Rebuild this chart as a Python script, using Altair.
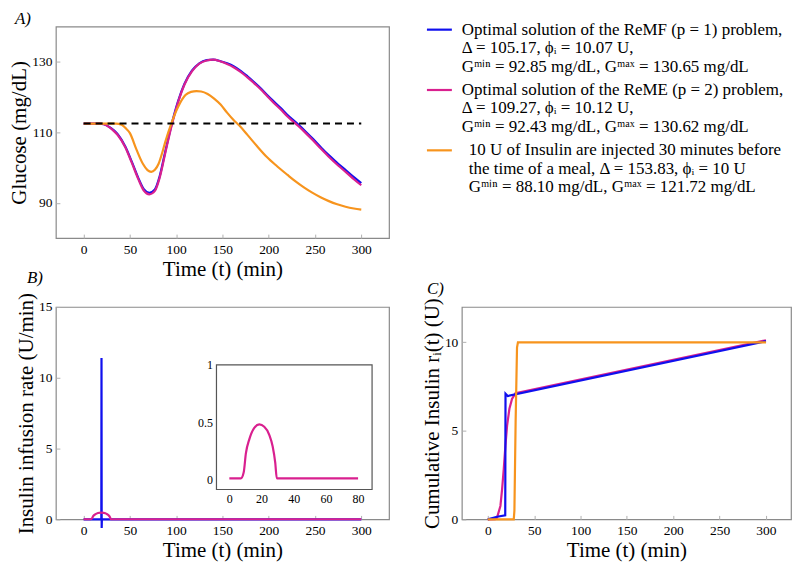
import altair as alt
import pandas as pd

SERIF = "Liberation Serif"
BLUE = "#1010EE"
MAG = "#D9208F"
ORANGE = "#F7941D"

# ---------------- Panel A: glucose ----------------
t_glu = [0, 10, 18, 22, 28, 33, 37, 45, 52, 59, 65, 71, 77, 82, 88, 95, 102, 109, 117, 125,
         133, 140, 148, 155, 162, 170, 177, 184, 191, 198, 205, 213, 220, 232, 240, 248, 257,
         266, 275, 284, 292, 300]
g_remf = [112.5, 112.5, 112.5, 112.3, 111.5, 110.5, 109.4, 106.0, 101.7, 97.1, 93.9, 92.85, 93.8,
          97.4, 104.3, 112.2, 118.8, 123.8, 127.5, 129.6, 130.5, 130.65, 130.2, 129.6, 128.8,
          127.4, 125.9, 124.3, 122.6, 120.7, 118.9, 116.9, 115.0, 112.2, 110.2, 108.1, 105.6,
          103.3, 101.1, 99.1, 97.3, 95.6]
g_reme = [112.5, 112.5, 112.5, 112.3, 111.4, 110.3, 109.2, 105.8, 101.4, 96.8, 93.5, 92.43, 93.4,
          97.0, 103.9, 111.8, 118.5, 123.6, 127.3, 129.5, 130.4, 130.62, 130.1, 129.4, 128.5,
          127.1, 125.6, 124.0, 122.3, 120.4, 118.5, 116.5, 114.6, 111.8, 109.8, 107.7, 105.2,
          102.8, 100.6, 98.6, 96.7, 95.0]
t_glu_bolus = [0, 20, 35, 41, 45, 50, 57, 64, 69, 73, 77, 81, 85, 88, 95, 102, 110, 116, 122, 127,
               134, 141, 148, 155, 162, 168, 177, 187, 198, 209, 220, 229, 238, 247, 256, 265,
               274, 283, 292, 300]
g_bolus = [112.5, 112.5, 112.5, 112.2, 111.3, 109.8, 105.2, 101.1, 99.3, 98.8, 99.4, 101.1, 104.3,
           107.1, 112.7, 117.2, 120.6, 121.5, 121.72, 121.6, 120.9, 119.6, 117.9, 115.6, 113.5,
           112.0, 109.3, 106.2, 103.0, 100.4, 98.0, 96.1, 94.4, 92.9, 91.6, 90.5, 89.6, 88.9,
           88.4, 88.1]
t_basal = [0, 300]
g_basal = [112.5, 112.5]

# ---------------- Panel B: infusion rate ----------------
t_rate_remf = [0, 19.1, 19.3, 19.5, 19.7, 300]
rate_remf = [0, 0, 11.4, -0.6, 0, 0]
t_rate_reme = [0, 7.2, 8.9, 10.3, 12.4, 15.5, 18.6, 21.7, 24.8, 26.9, 28.5, 29.5, 80, 300]
rate_reme = [0.01, 0.01, 0.06, 0.23, 0.35, 0.45, 0.48, 0.46, 0.39, 0.29, 0.15, 0.01, 0.01, 0.01]

# ---------------- Panel C: cumulative insulin ----------------
t_cum_remf = [0, 10, 18.8, 19.1, 21.5, 300]
cum_remf = [0, 0.15, 0.23, 7.1, 6.97, 10.07]
t_cum_reme = [0, 8, 10, 13.6, 15.4, 17.2, 19, 20.8, 23.3, 26.1, 29.8, 300]
cum_reme = [0, 0.02, 0.1, 0.76, 1.7, 2.84, 4.17, 5.3, 6.25, 6.8, 7.12, 10.12]
t_cum_bolus = [0, 28, 28.7, 30, 31.5, 32.5, 300]
cum_bolus = [0, 0, 0.5, 5.5, 9.7, 10, 10]

# ---------------- ticks / domains ----------------
time_ticks = [0, 50, 100, 150, 200, 250, 300]
glu_ticks = [90, 110, 130]
rate_ticks = [0, 5, 10, 15]
cum_ticks = [0, 5, 10]
inset_x_ticks = [0, 20, 40, 60, 80]
inset_y_ticks = [0, 0.5, 1]
time_domain = [-30, 330]
time_domain_c = [-28, 327]
glu_domain = [80, 140]
rate_domain = [0, 15]
cum_domain = [0, 12]
inset_x_domain = [-8, 88.7]
inset_y_domain = [-0.087, 1]
inset_x_max = 80

# ---------------- legend ----------------
legend_series = ["ReMF", "ReME", "Bolus"]
legend_colors = [BLUE, MAG, ORANGE]
legend_lines = [
    ["Optimal solution of the ReMF (p = 1) problem,",
     "Δ = 105.17, ϕᵢ = 10.07 U,",
     "Gᵐⁱⁿ = 92.85 mg/dL, Gᵐᵃˣ = 130.65 mg/dL"],
    ["Optimal solution of the ReME (p = 2) problem,",
     "Δ = 109.27, ϕᵢ = 10.12 U,",
     "Gᵐⁱⁿ = 92.43 mg/dL, Gᵐᵃˣ = 130.62 mg/dL"],
    ["10 U of Insulin are injected 30 minutes before",
     "the time of a meal, Δ = 153.83, ϕᵢ = 10 U",
     "Gᵐⁱⁿ = 88.10 mg/dL, Gᵐᵃˣ = 121.72 mg/dL"],
]


def frame(ts, vs):
    return pd.DataFrame({"t": ts, "v": vs})


def x_axis(title="Time (t) (min)"):
    return alt.Axis(values=time_ticks, title=title, offset=-4, tickSize=4, labelPadding=4,
                    titlePadding=3)


def y_axis(values, title):
    return alt.Axis(values=values, title=title, offset=-4, tickSize=4, labelPadding=4,
                    titlePadding=2)


def lines(layers, xe, ye):
    out = []
    for df, color, extra in layers:
        kw = dict(color=color, strokeWidth=2.2, interpolate=extra.get("interp", "monotone"))
        if "dash" in extra:
            kw["strokeDash"] = extra["dash"]
            kw["strokeWidth"] = 2
        out.append(alt.Chart(df).mark_line(**kw).encode(x=xe, y=ye))
    return out


def panel_title(text, dx, offset):
    return alt.TitleParams(text, anchor="start", frame="group", dx=dx, offset=offset,
                           font=SERIF, fontStyle="italic", fontSize=17, fontWeight="normal",
                           color="black")


# ---- Panel A ----
xA = alt.X("t:Q", scale=alt.Scale(domain=time_domain, nice=False, zero=False), axis=x_axis())
yA = alt.Y("v:Q", scale=alt.Scale(domain=glu_domain, nice=False, zero=False),
           axis=y_axis(glu_ticks, "Glucose (mg/dL)"))
A = alt.layer(*lines([
    (frame(t_glu, g_remf), BLUE, {}),
    (frame(t_glu, g_reme), MAG, {}),
    (frame(t_glu_bolus, g_bolus), ORANGE, {}),
    (frame(t_basal, g_basal), "black", {"dash": [7, 5], "interp": "linear"}),
], xA, yA)).properties(width=334, height=212, title=panel_title("A)", -41, -1))

# ---- Legend ----
leg_rows = []
for g, ls in enumerate(legend_lines):
    for j, s in enumerate(ls):
        leg_rows.append({"g": g, "j": j, "text": s, "series": legend_series[g]})
leg_df = pd.DataFrame(leg_rows)
leg_base = alt.Chart(leg_df).transform_calculate(pos="datum.g * 3 + datum.j + datum.g * 0.27")
ly = alt.Y("pos:Q", scale=alt.Scale(domain=[0, 8.54], range=[3, 161], nice=False, zero=False),
           axis=None)
leg_text1 = leg_base.transform_filter("datum.g < 2").mark_text(
    align="left", baseline="middle", font=SERIF, fontSize=17, color="black"
).encode(x=alt.value(0), y=ly, text="text:N")
leg_text2 = leg_base.transform_filter("datum.g == 2").mark_text(
    align="left", baseline="middle", font=SERIF, fontSize=17, color="black"
).encode(x=alt.value(7), y=ly, text="text:N")
leg_sw = leg_base.transform_filter("datum.j == 0").mark_rule(strokeWidth=2.2).encode(
    x=alt.value(-35), x2=alt.value(-10), y=ly,
    color=alt.Color("series:N", scale=alt.Scale(domain=legend_series, range=legend_colors),
                    legend=None))
LEG = alt.layer(leg_sw, leg_text1, leg_text2).properties(
    width=330, height=212, view=alt.ViewBackground(strokeOpacity=0))

# ---- Panel B ----
xB = alt.X("t:Q", scale=alt.Scale(domain=time_domain, nice=False, zero=False), axis=x_axis())
yB = alt.Y("v:Q", scale=alt.Scale(domain=rate_domain, nice=False, zero=False),
           axis=y_axis(rate_ticks, "Insulin infusion rate (U/min)"))
mainB = alt.layer(*lines([
    (frame(t_rate_remf, rate_remf), BLUE, {"interp": "linear"}),
    (frame(t_rate_reme, rate_reme), MAG, {}),
], xB, yB))

ix = alt.X("t:Q", scale=alt.Scale(domain=inset_x_domain, range=[161, 317], nice=False, zero=False),
           axis=alt.Axis(orient="bottom", values=inset_x_ticks, title="", offset=-30, ticks=False,
                         labelPadding=4, labelFontSize=12))
iy = alt.Y("v:Q", scale=alt.Scale(domain=inset_y_domain, range=[183, 58], nice=False, zero=False),
           axis=alt.Axis(orient="left", values=inset_y_ticks, title="", offset=-161, ticks=False,
                         labelPadding=4, labelFontSize=12, format="~g"))
inset_box = pd.DataFrame({"t": [inset_x_domain[0]], "t2": [inset_x_domain[1]],
                          "v": [inset_y_domain[0]], "v2": [inset_y_domain[1]]})
box = alt.Chart(inset_box).mark_rect(fill="white", stroke="#555555", strokeWidth=1.2).encode(
    x=ix, x2="t2:Q", y=iy, y2="v2:Q")
inset_line = alt.Chart(frame(t_rate_reme, rate_reme)).transform_filter(
    f"datum.t <= {inset_x_max}").mark_line(color=MAG, strokeWidth=2.2, interpolate="monotone").encode(
    x=ix, y=iy)
inset = alt.layer(box, inset_line)
B = alt.layer(mainB, inset).resolve_scale(x="independent", y="independent").properties(
    width=334, height=213, title=panel_title("B)", -29, 5))

# ---- Panel C ----
xC = alt.X("t:Q", scale=alt.Scale(domain=time_domain_c, nice=False, zero=False), axis=x_axis())
yC = alt.Y("v:Q", scale=alt.Scale(domain=cum_domain, nice=False, zero=False),
           axis=y_axis(cum_ticks, "Cumulative Insulin rᵢ(t) (U)"))
C = alt.layer(*lines([
    (frame(t_cum_reme, cum_reme), MAG, {"interp": "linear"}),
    (frame(t_cum_remf, cum_remf), BLUE, {"interp": "linear"}),
    (frame(t_cum_bolus, cum_bolus), ORANGE, {"interp": "linear"}),
], xC, yC)).properties(width=330, height=213, title=panel_title("C)", -35, 0))

chart = alt.concat(A, LEG, B, C, columns=2, spacing={"row": 69, "column": 73},
                   bounds="flush").properties(
    padding={"left": 0, "top": 0, "right": 0, "bottom": 0}
).configure_axis(
    labelFont=SERIF, titleFont=SERIF, labelFontSize=13.5, titleFontSize=21,
    titleFontWeight="normal", labelColor="black", titleColor="black", grid=False, domain=False,
    tickColor="#b0b0b0", tickWidth=1
).configure_view(stroke="#8a8a8a", strokeWidth=1.2)

chart.save("out.html", embed_options={"renderer": "svg", "actions": False})
